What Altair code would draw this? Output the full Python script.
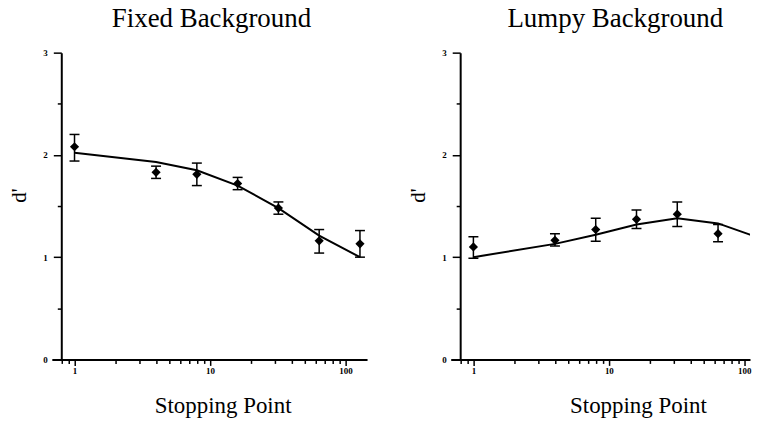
import altair as alt
import pandas as pd

# ---- data ----
stops = [1, 4, 8, 16, 32, 64, 128]

fixed_mean = [2.08, 1.83, 1.81, 1.72, 1.48, 1.16, 1.13]
fixed_lo = [1.94, 1.77, 1.70, 1.66, 1.42, 1.04, 1.00]
fixed_hi = [2.20, 1.89, 1.92, 1.78, 1.54, 1.27, 1.26]
fixed_model = [2.02, 1.93, 1.85, 1.70, 1.48, 1.21, 1.00]

lumpy_mean = [1.10, 1.165, 1.27, 1.37, 1.42, 1.23, 1.035]
lumpy_lo = [0.99, 1.11, 1.155, 1.28, 1.30, 1.15, 0.94]
lumpy_hi = [1.20, 1.23, 1.38, 1.46, 1.54, 1.32, 1.13]
lumpy_model = [1.00, 1.13, 1.22, 1.32, 1.38, 1.33, 1.19]

x_major = [1, 10, 100]
x_minor = [0.8, 0.9, 2, 3, 4, 5, 6, 7, 8, 9, 20, 30, 40, 50, 60, 70, 80, 90]
y_major = [0, 1, 2, 3]
y_minor = [0.5, 1.5, 2.5]

titles = ["Fixed Background", "Lumpy Background"]
x_title = "Stopping Point"
y_title = "d'"

FONT = "Liberation Serif"
BLACK = "#000000"


def panel(title, mean, lo, hi, model, x_max, width, title_dx, xtitle_x, clip):
    df = pd.DataFrame({"stop": stops, "mean": mean, "lo": lo, "hi": hi, "model": model})
    xscale = alt.Scale(type="log", domain=[0.68, x_max], nice=False)
    yscale = alt.Scale(domain=[0, 3], nice=False, zero=False)
    base = alt.Chart(df)

    x_major_axis = alt.Axis(
        orient="bottom", values=x_major, format=".0f", grid=False,
        tickSize=6, tickWidth=1.5, tickColor=BLACK,
        domain=True, domainWidth=2, domainColor=BLACK,
        labelFont=FONT, labelFontSize=9, labelFontWeight="bold", labelColor=BLACK,
        labelPadding=1, labelFlush=False, labelOverlap=False,
        title=x_title, titleFont=FONT, titleFontSize=23, titleFontWeight="normal",
        titleColor=BLACK, titleX=xtitle_x, titleY=53, titleBaseline="alphabetic",
        titleAlign="center", titleAngle=0,
    )
    y_major_axis = alt.Axis(
        orient="left", values=y_major, format="d", grid=False, offset=-9.5,
        tickSize=8, tickWidth=1.5, tickColor=BLACK,
        domain=True, domainWidth=2, domainColor=BLACK,
        labelFont=FONT, labelFontSize=9, labelFontWeight="bold", labelColor=BLACK,
        labelPadding=6, labelFlush=False, labelOverlap=False,
        title=y_title, titleFont=FONT, titleFontSize=21, titleFontWeight="normal",
        titleColor=BLACK, titleX=-36, titleY=143, titleBaseline="alphabetic",
        titleAlign="center", titleAngle=270,
    )
    x_minor_axis = alt.Axis(
        orient="bottom", values=x_minor, grid=False, labels=False, domain=False,
        tickSize=4, tickWidth=1.5, tickColor=BLACK, title=None,
    )
    y_minor_axis = alt.Axis(
        orient="left", values=y_minor, grid=False, labels=False, domain=False,
        offset=-9.5, tickSize=4, tickWidth=1.5, tickColor=BLACK, title=None,
    )

    line = base.mark_line(color=BLACK, strokeWidth=2, clip=clip).encode(
        x=alt.X("stop:Q", scale=xscale, axis=x_major_axis),
        y=alt.Y("model:Q", scale=yscale, axis=y_major_axis),
    )
    bars = base.mark_rule(color=BLACK, strokeWidth=1.5, clip=clip).encode(
        x=alt.X("stop:Q", scale=xscale, axis=x_minor_axis),
        y=alt.Y("lo:Q", scale=yscale, axis=y_minor_axis),
        y2="hi:Q",
    )
    cap_lo = base.mark_tick(color=BLACK, orient="horizontal", size=10, thickness=1.5,
                            opacity=1, clip=clip).encode(
        x=alt.X("stop:Q", scale=xscale, axis=None),
        y=alt.Y("lo:Q", scale=yscale, axis=None),
    )
    cap_hi = base.mark_tick(color=BLACK, orient="horizontal", size=10, thickness=1.5,
                            opacity=1, clip=clip).encode(
        x=alt.X("stop:Q", scale=xscale, axis=None),
        y=alt.Y("hi:Q", scale=yscale, axis=None),
    )
    pts = base.mark_point(shape="diamond", filled=True, size=85, color=BLACK,
                          opacity=1, clip=clip).encode(
        x=alt.X("stop:Q", scale=xscale, axis=None),
        y=alt.Y("mean:Q", scale=yscale, axis=None),
    )
    return (
        alt.layer(line, bars, cap_lo, cap_hi, pts)
        .resolve_axis(x="independent", y="independent")
        .properties(
            width=width, height=308,
            view=alt.ViewBackground(stroke="white", strokeWidth=0, strokeOpacity=0),
            title=alt.TitleParams(
                text=title, font=FONT, fontSize=27, fontWeight="normal", color=BLACK,
                anchor="middle", frame="group", offset=-5, baseline="alphabetic",
                dx=title_dx,
            ),
        )
    )


left = panel(titles[0], fixed_mean, fixed_lo, fixed_hi, fixed_model,
             144.4, 316.5, 2, 171.5, False)
right = panel(titles[1], lumpy_mean, lumpy_lo, lumpy_hi, lumpy_model,
              110.2, 300.5, 15, 188, True)

chart = (
    alt.hconcat(left, right, spacing=83.5, bounds="flush")
    .properties(padding={"left": 0, "right": 0, "top": -4, "bottom": 1})
    .configure_view(stroke="white", strokeWidth=0, strokeOpacity=0)
    .configure(background="white")
)

chart.save("out.html", embed_options={"renderer": "svg", "actions": False})
